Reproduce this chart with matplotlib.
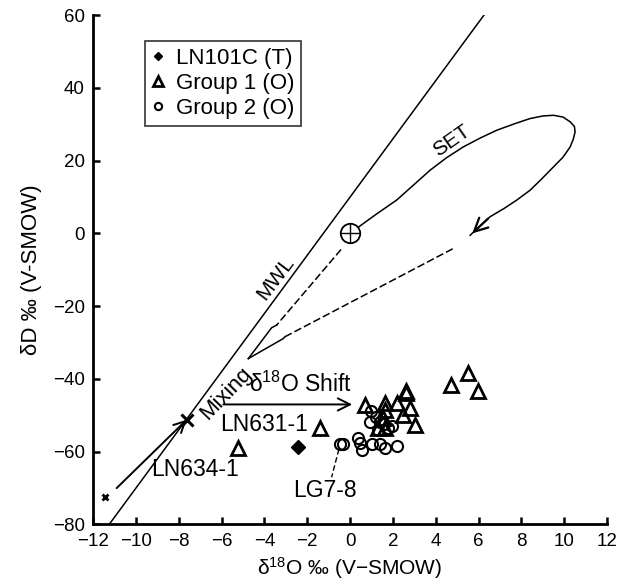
import matplotlib
matplotlib.use('Agg')
import matplotlib.pyplot as plt
import numpy as np

plt.rcParams['font.family'] = ['Liberation Sans', 'DejaVu Sans']
plt.rcParams['mathtext.fontset'] = 'custom'
plt.rcParams['mathtext.rm'] = 'Liberation Sans'
plt.rcParams['mathtext.it'] = 'Liberation Sans:italic'

# 数据
ln101c_x = [-2.42]
ln101c_y = [-58.7]

group1_x = [0.70, 1.64, 2.20, 2.60, 2.60, 2.80, 2.48, 3.04, 1.64, 1.54, 1.31, 1.64,
            4.72, 5.51, 5.98, -1.40, -5.22]
group1_y = [-47.2, -46.7, -46.7, -43.3, -43.8, -48.0, -49.9, -52.7, -48.5, -50.7, -53.5, -53.5,
            -41.7, -38.4, -43.3, -53.6, -59.1]

group2_x = [-0.47, -0.31, 0.39, 0.47, 0.55, 1.01, 1.40, 1.64, 2.18, 1.00, 0.93, 1.40,
            1.32, 1.79, 1.95, 1.60, 1.20]
group2_y = [-57.9, -57.9, -56.2, -57.6, -59.5, -58.0, -58.0, -59.1, -58.4, -48.8, -51.8, -51.8,
            -53.9, -53.4, -53.0, -52.4, -50.4]

# MWL: dD = 8 * d18O + 10
mwl_x = [-11.25, 6.25]
mwl_slope = 8
mwl_intercept = 10

mixing_pt = (-7.63, -51.2)
ln634_pt = (-11.45, -72.4)
smow_pt = (0.0, 0.0)

# SET 曲线
set_x = [0.31, 1.2, 2.18, 3.0, 3.74, 4.5, 5.29, 6.1, 6.86, 7.7, 8.41, 9.0, 9.50, 9.95, 10.28,
         10.48, 10.51, 10.42, 10.28, 9.95, 9.50, 8.95, 8.41, 7.79, 7.2, 6.54, 6.05, 5.61]
set_y = [1.4, 5.2, 9.2, 13.5, 17.4, 20.8, 23.8, 26.3, 28.4, 30.2, 31.6, 32.3, 32.5, 32.0, 30.7,
         29.4, 27.9, 25.8, 23.8, 21.0, 18.3, 15.0, 11.9, 9.2, 6.9, 4.6, 2.0, -0.5]

# 虚线 (V 形)
upper_dash_x = [-0.42, -3.43]
upper_dash_y = [-4.4, -25.2]
upper_solid_x = [-3.43, -3.66, -4.75]
upper_solid_y = [-25.2, -25.9, -34.4]
lower_solid_x = [-4.75, -3.12, -3.04]
lower_solid_y = [-34.4, -28.9, -28.4]
lower_dash_x = [-3.04, 4.83]
lower_dash_y = [-28.4, -4.1]

shift_start = (-5.92, -47.0)
shift_end = (0.10, -47.0)

lg78_leader_x = [-0.52, -0.86]
lg78_leader_y = [-59.3, -67.0]

fig = plt.figure(figsize=(6.29, 5.86), dpi=100)
ax = fig.add_axes([0.148, 0.105, 0.817, 0.869])

# MWL
mx = np.array(mwl_x)
ax.plot(mx, mwl_slope * mx + mwl_intercept, color='black', lw=1.1)

# SET curve
ax.plot(set_x, set_y, color='black', lw=1.1)
ax.annotate('', xy=(set_x[-1], set_y[-1]), xytext=(set_x[-3], set_y[-3]),
            arrowprops=dict(arrowstyle='->', color='black', lw=1.6, mutation_scale=24))

# V 形线
ax.plot(upper_dash_x, upper_dash_y, color='black', lw=1.1, ls=(0, (5, 2)))
ax.plot(upper_solid_x, upper_solid_y, color='black', lw=1.1)
ax.plot(lower_solid_x, lower_solid_y, color='black', lw=1.1)
ax.plot(lower_dash_x, lower_dash_y, color='black', lw=1.1, ls=(0, (5, 2)))

# SMOW symbol
ax.plot(*smow_pt, marker='o', ms=14, mfc='white', mec='black', mew=1.3, ls='none', zorder=4)
ax.plot(*smow_pt, marker='+', ms=14, mec='black', mew=1.0, ls='none', zorder=5)

# mixing arrow
ax.annotate('', xy=mixing_pt, xytext=(-10.9, -70.0),
            arrowprops=dict(arrowstyle='->', color='black', lw=1.4, mutation_scale=20,
                            shrinkA=0, shrinkB=0))
ax.plot(*mixing_pt, marker='x', ms=8, mec='black', mew=2.2, ls='none')
ax.plot(*ln634_pt, marker='x', ms=5, mec='black', mew=2.0, ls='none')

# shift arrow
ax.annotate('', xy=shift_end, xytext=shift_start,
            arrowprops=dict(arrowstyle='->', color='black', lw=1.4, mutation_scale=22,
                            shrinkA=0, shrinkB=0))

ax.plot(lg78_leader_x, lg78_leader_y, color='black', lw=1.0, ls=(0, (4, 2)))

# data
ax.plot(group2_x, group2_y, ls='none', marker='o', ms=8, mfc='none', mec='black', mew=1.5,
        label='Group 2 (O)', zorder=6)
ax.plot(group1_x, group1_y, ls='none', marker='^', ms=10, mfc='none', mec='black', mew=2.0,
        label='Group 1 (O)', zorder=6)
ax.plot(ln101c_x, ln101c_y, ls='none', marker='D', ms=7, mfc='black', mec='black',
        label='LN101C (T)', zorder=6)

# text
ax.text(-5.8, -44.0, 'Mixing', fontsize=16, rotation=46, ha='center', va='center')
ax.text(-4.7, -41.6, 'δ$^{\\mathregular{18}}$O Shift', fontsize=16.5, ha='left', va='center')
ax.text(-6.08, -52.4, 'LN631-1', fontsize=16.5, ha='left', va='center')
ax.text(-9.3, -64.8, 'LN634-1', fontsize=16.5, ha='left', va='center')
ax.text(-2.65, -70.6, 'LG7-8', fontsize=16.5, ha='left', va='center')
ax.text(-3.47, -12.4, 'MWL', fontsize=15, rotation=53, ha='center', va='center')
ax.text(4.75, 25.4, 'SET', fontsize=15, rotation=35, ha='center', va='center')

# legend
handles, labels = ax.get_legend_handles_labels()
order = [2, 1, 0]
leg = ax.legend([handles[i] for i in order], [labels[i] for i in order],
                loc='upper left', bbox_to_anchor=(0.101, 0.949), fontsize=16,
                frameon=True, fancybox=False, edgecolor='black', markerscale=0.65,
                handlelength=0.6, handletextpad=0.5, borderpad=0.3, labelspacing=0.18,
                borderaxespad=0)
leg.get_frame().set_linewidth(1.2)

ax.set_xlim(-12, 12)
ax.set_ylim(-80, 60)
ax.set_xticks(np.arange(-12, 13, 2))
ax.set_yticks(np.arange(-80, 61, 20))
for s in ['top', 'right']:
    ax.spines[s].set_visible(False)
for s in ['left', 'bottom']:
    ax.spines[s].set_linewidth(2.0)
ax.tick_params(direction='in', length=5, width=1.8, labelsize=13.5, pad=6)

ax.set_xlabel('δ$^{\\mathregular{18}}$O ‰ (V−SMOW)', fontsize=15, labelpad=4)
ax.set_ylabel('δD ‰ (V-SMOW)', fontsize=16, labelpad=8)

fig.savefig('out.png', dpi=100)
